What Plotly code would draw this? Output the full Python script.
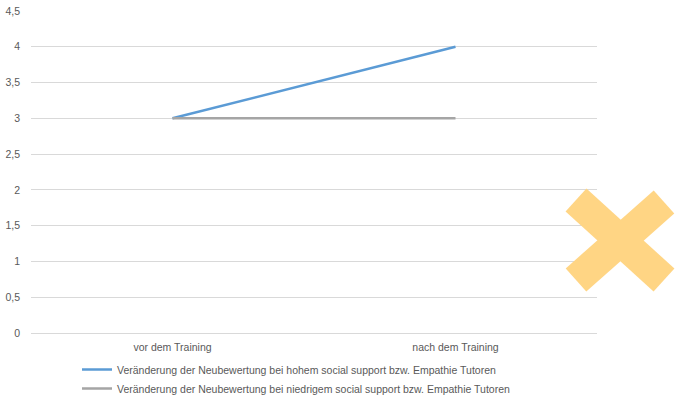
import plotly.graph_objects as go

# Data
categories = ["vor dem Training", "nach dem Training"]
hoch_values = [3, 4]
niedrig_values = [3, 3]
series_names = [
    "Veränderung der Neubewertung bei hohem social support bzw. Empathie Tutoren",
    "Veränderung der Neubewertung bei niedrigem social support bzw. Empathie Tutoren",
]

W, H = 677, 398
ML, MR, MT, MB = 31, 80, 11, 65
PW, PH = W - ML - MR, H - MT - MB

FONT = "Liberation Sans"
TXT = "#595959"

fig = go.Figure()
fig.add_trace(go.Scatter(x=categories, y=hoch_values, mode="lines", name=series_names[0],
                         line=dict(color="#5B9BD5", width=2.5)))
fig.add_trace(go.Scatter(x=categories, y=niedrig_values, mode="lines", name=series_names[1],
                         line=dict(color="#A5A5A5", width=2.5)))


def px(x, y):
    """Pixel position on the page -> paper coordinates."""
    return (x - ML) / PW, (H - MB - y) / PH


# Decorative cross on the right
cross_color = "#FFD584"
for (x0, y0), (x1, y1) in [((576, 200), (664, 280)), ((664, 202), (576, 280))]:
    a0, b0 = px(x0, y0)
    a1, b1 = px(x1, y1)
    fig.add_shape(type="line", xref="paper", yref="paper", x0=a0, y0=b0, x1=a1, y1=b1,
                  line=dict(color=cross_color, width=31), layer="above")

fig.update_layout(
    width=W, height=H,
    margin=dict(l=ML, r=MR, t=MT, b=MB, autoexpand=False),
    paper_bgcolor="white", plot_bgcolor="white",
    separators=",.",
    font=dict(family=FONT, size=10.5, color=TXT),
    showlegend=True,
    legend=dict(orientation="v", xref="container", x=77 / W, xanchor="left",
                yref="container", y=1 - 355 / H, yanchor="top",
                font=dict(family=FONT, size=10.5, color=TXT), tracegroupgap=0,
                itemwidth=30, bgcolor="rgba(0,0,0,0)"),
    xaxis=dict(range=[-0.5, 1.5], showgrid=False, zeroline=False, showline=False,
               ticks="", tickfont=dict(size=10.5, color=TXT), ticklabelstandoff=6),
    yaxis=dict(range=[0, 4.5], dtick=0.5, tick0=0, showgrid=True, gridcolor="#D9D9D9",
               gridwidth=1, zeroline=True, zerolinecolor="#D9D9D9", zerolinewidth=1,
               showline=False, ticks="",
               tickfont=dict(size=10.5, color=TXT), ticklabelstandoff=10),
)

fig.write_html("out.html")
